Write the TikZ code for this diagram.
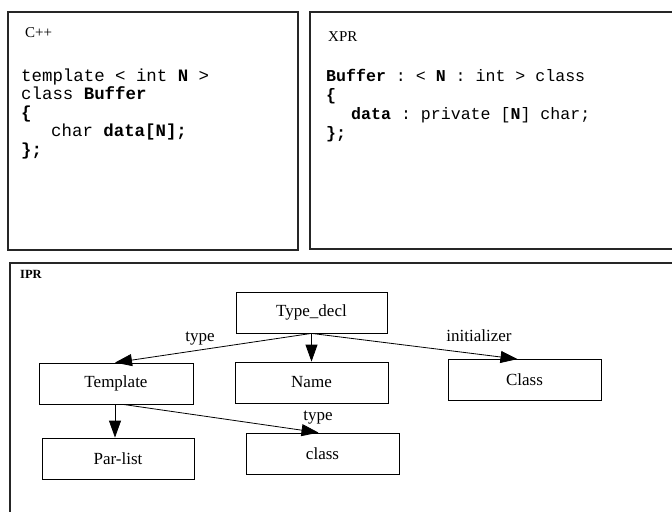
\documentclass[tikz,border=0pt]{standalone}
\usepackage{fontspec}
\setmainfont{Liberation Serif}
\setmonofont{Liberation Mono}
\usetikzlibrary{arrows.meta}
\begin{document}
\begin{tikzpicture}[x=1bp,y=-1bp,
  panel/.style={draw=black!85, line width=1.1bp},
  box/.style={draw, line width=0.8bp, minimum width=#1, minimum height=41bp, inner sep=0pt,
    font=\fontsize{17bp}{20bp}\selectfont},
  box/.default=153bp,
  lbl/.style={inner sep=0pt, font=\fontsize{17bp}{20bp}\selectfont},
  title/.style={anchor=base west, inner sep=0pt, font=\fontsize{15bp}{18bp}\selectfont},
  codeA/.style={anchor=base west, inner sep=0pt, font=\fontsize{17.4bp}{18bp}\ttfamily},
  codeB/.style={anchor=base west, inner sep=0pt, font=\fontsize{16.6bp}{18bp}\ttfamily},
  arr/.style={line width=0.8bp, -{Triangle[length=17bp,width=12bp]}}
]
\useasboundingbox (0,0) rectangle (672,512);
\clip (0,0) rectangle (672,512);
% panels
\draw[panel] (8,12) rectangle (298,250);
\draw[panel] (310,12) rectangle (690,249);
\draw[panel] (10,263) rectangle (690,530);
% C++ panel
\node[title] (cpp) at (25,38) {C++};
\node[codeA] (c1) at (21,81.5) {template < int \textbf{N} >};
\node[codeA] (c2) at (21,100) {class \textbf{Buffer}};
\node[codeA] (c3) at (21,118.5) {\textbf{\{}};
\node[codeA] (c4) at (51,137) {char \textbf{data[N];}};
\node[codeA] (c5) at (21,155.5) {\textbf{\};}};
% XPR panel
\node[title] (xpr) at (328,42) {XPR};
\node[codeB] (x1) at (326,82) {\textbf{Buffer} : < \textbf{N} : int > class};
\node[codeB] (x2) at (326,101) {\textbf{\{}};
\node[codeB] (x3) at (351,120) {\textbf{data} : private [\textbf{N}] char;};
\node[codeB] (x4) at (326,139) {\textbf{\};}};
% IPR panel
\node[title, font=\fontsize{12.5bp}{15bp}\selectfont\bfseries] (ipr) at (20,278) {IPR};
\node[box=151bp] (td) at (311.5,312.5) {Type\_decl};
\node[box=154bp] (tmpl) at (116,383.5) {Template};
\node[box] (name) at (311.5,382.5) {Name};
\node[box] (cls) at (524.5,380) {Class};
\node[box=152bp] (par) at (118,458.5) {Par-list};
\node[box] (clsl) at (322.5,453.5) {class};
% connectors
\draw[arr] (td.south) -- ([xshift=-1bp]tmpl.north);
\draw[arr] (td.south) -- (name.north);
\draw[arr] (td.south) -- ([xshift=-7bp]cls.north);
\draw[arr] ([xshift=7bp]tmpl.south) -- ([xshift=-4bp]clsl.north);
\draw[arr] ([xshift=-1bp]tmpl.south) -- ([xshift=-1bp]tmpl.south |- par.north);
% labels
\node[lbl] (l1) at (200,339) {type};
\node[lbl] (l2) at (479,336) {initializer};
\node[lbl] (l3) at (318,418) {type};
\end{tikzpicture}
\end{document}
